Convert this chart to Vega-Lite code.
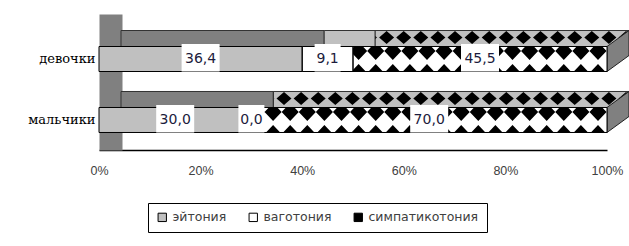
{
  "$schema": "https://vega.github.io/schema/vega-lite/v6.json",
  "autosize": {"type": "none"},
  "padding": {"left": 99, "top": 14, "right": 22, "bottom": 96},
  "width": 508,
  "height": 136,
  "background": "#ffffff",
  "data": {"values": [
    {"group": "девочки", "type": "эйтония", "value": 36.4},
    {"group": "девочки", "type": "ваготония", "value": 9.1},
    {"group": "девочки", "type": "симпатикотония", "value": 45.5},
    {"group": "мальчики", "type": "эйтония", "value": 30.0},
    {"group": "мальчики", "type": "ваготония", "value": 0.0},
    {"group": "мальчики", "type": "симпатикотония", "value": 70.0}
  ]},
  "transform": [
    {"calculate": "indexof(['эйтония','ваготония','симпатикотония'], datum.type)", "as": "ord"},
    {"stack": "value", "groupby": ["group"], "sort": [{"field": "ord", "order": "ascending"}], "offset": "normalize", "as": ["v0", "v1"]},
    {"calculate": "(datum.v0 + datum.v1) / 2", "as": "mid"},
    {"calculate": "replace(format(datum.value, '.1f'), '.', ',')", "as": "label"}
  ],
  "encoding": {
    "y": {
      "field": "group", "type": "nominal", "title": null,
      "sort": ["девочки", "мальчики"],
      "scale": {"type": "band", "paddingInner": 0.59, "paddingOuter": 0.41, "align": 0.65},
      "axis": {"domainColor": "#808080", "domainWidth": 23, "offset": -11.5, "ticks": false, "labelPadding": 15.5,
               "labelFont": "DejaVu Serif", "labelFontSize": 13, "labelColor": "#000000", "grid": false}
    }
  },
  "layer": [
    {
      "transform": [{"filter": "datum.type == 'симпатикотония'"}],
      "mark": {"type": "bar", "xOffset": 22, "x2Offset": 22, "yOffset": -16, "fill": "#c0c0c0", "stroke": "#333333", "strokeWidth": 1},
      "encoding": {
        "x": {"field": "v0", "type": "quantitative", "title": null, "scale": {"domain": [0, 1], "nice": false, "zero": true},
              "axis": {"format": "%", "values": [0, 0.2, 0.4, 0.6, 0.8, 1], "grid": false, "ticks": false, "labelFlush": false,
                       "labelPadding": 14, "domainColor": "#000000", "domainWidth": 1.5, "labelFont": "Liberation Sans",
                       "labelFontSize": 12.5, "labelColor": "#404040"}},
        "x2": {"field": "v1", "title": null}
      }
    },
    {
      "transform": [{"filter": "datum.type == 'симпатикотония'"}],
      "mark": {"type": "point", "filled": true, "opacity": 1, "size": 4, "strokeWidth": 0, "fill": "#000000",
               "shape": "M19,-28l7.5,6.5l-7.5,6.5l-7.5,-6.5zm-17.1,0l7.5,6.5l-7.5,6.5l-7.5,-6.5zm-17.1,0l7.5,6.5l-7.5,6.5l-7.5,-6.5zm-17.1,0l7.5,6.5l-7.5,6.5l-7.5,-6.5zm-17.1,0l7.5,6.5l-7.5,6.5l-7.5,-6.5zm-17.1,0l7.5,6.5l-7.5,6.5l-7.5,-6.5zm-17.1,0l7.5,6.5l-7.5,6.5l-7.5,-6.5zm-17.1,0l7.5,6.5l-7.5,6.5l-7.5,-6.5zm-17.1,0l7.5,6.5l-7.5,6.5l-7.5,-6.5zm-17.1,0l7.5,6.5l-7.5,6.5l-7.5,-6.5zm-17.1,0l7.5,6.5l-7.5,6.5l-7.5,-6.5zm-17.1,0l7.5,6.5l-7.5,6.5l-7.5,-6.5zm-17.1,0l7.5,6.5l-7.5,6.5l-7.5,-6.5zm-17.1,0l7.5,6.5l-7.5,6.5l-7.5,-6.5zm-17.1,0l7.5,6.5l-7.5,6.5l-7.5,-6.5zm-17.1,0l7.5,6.5l-7.5,6.5l-7.5,-6.5zm-17.1,0l7.5,6.5l-7.5,6.5l-7.5,-6.5zm-17.1,0l7.5,6.5l-7.5,6.5l-7.5,-6.5zm-17.1,0l7.5,6.5l-7.5,6.5l-7.5,-6.5zm-17.1,0l7.5,6.5l-7.5,6.5l-7.5,-6.5zm-17.1,0l7.5,6.5l-7.5,6.5l-7.5,-6.5zm-17.1,0l7.5,6.5l-7.5,6.5l-7.5,-6.5zm-17.1,0l7.5,6.5l-7.5,6.5l-7.5,-6.5zm-17.1,0l7.5,6.5l-7.5,6.5l-7.5,-6.5z"},
      "encoding": {
        "x": {"field": "v1", "type": "quantitative", "title": null}
      }
    },
    {
      "transform": [{"filter": "datum.type != 'симпатикотония'"}],
      "mark": {"type": "bar", "xOffset": 22, "x2Offset": 22, "yOffset": -16, "stroke": "#333333", "strokeWidth": 1},
      "encoding": {
        "x": {"field": "v0", "type": "quantitative", "title": null},
        "x2": {"field": "v1", "title": null},
        "fill": {"condition": {"test": "datum.type == 'эйтония'", "value": "#808080"}, "value": "#c0c0c0"}
      }
    },
    {
      "transform": [{"filter": "datum.type == 'симпатикотония'"}],
      "mark": {"type": "point", "filled": true, "opacity": 1, "size": 4, "fill": "#808080", "stroke": "#222222", "strokeWidth": 1,
               "shape": "M0,-12.5L22,-28.5L22,-3.5L0,12.5Z"},
      "encoding": {
        "x": {"field": "v1", "type": "quantitative", "title": null}
      }
    },
    {
      "mark": {"type": "bar"},
      "encoding": {
        "x": {"field": "v0", "type": "quantitative", "title": null},
        "x2": {"field": "v1", "title": null},
        "color": {
          "field": "type", "type": "nominal", "title": null,
          "scale": {"domain": ["эйтония", "ваготония", "симпатикотония"], "range": ["#c0c0c0", "#ffffff", "#000000"]},
          "legend": {"orient": "none", "legendX": 49, "legendY": 189, "direction": "horizontal", "title": null,
                     "strokeColor": "#000000", "fillColor": "#ffffff", "padding": 8, "symbolType": "square", "symbolSize": 70,
                     "symbolStrokeColor": "#000000", "symbolStrokeWidth": 1, "labelFont": "DejaVu Sans", "labelFontSize": 12.5,
                     "labelColor": "#404040", "columnPadding": 20, "symbolOffset": 0, "labelOffset": 4}
        }
      }
    },
    {
      "transform": [{"filter": "datum.type == 'симпатикотония'"}],
      "mark": {"type": "bar", "fill": "#ffffff"},
      "encoding": {
        "x": {"field": "v0", "type": "quantitative", "title": null},
        "x2": {"field": "v1", "title": null}
      }
    },
    {
      "transform": [{"filter": "datum.type == 'симпатикотония'"}],
      "mark": {"type": "point", "filled": true, "opacity": 1, "size": 4, "strokeWidth": 0, "fill": "#000000",
               "shape": "M-13.28,-12.5l8.56,0l4.27,4.5l-8.55,9l-8.55,-9zm4.28,17.5l7.125,7.5l-14.25,0zm-21.38,-17.5l8.56,0l4.27,4.5l-8.55,9l-8.55,-9zm4.28,17.5l7.125,7.5l-14.25,0zm-21.38,-17.5l8.56,0l4.27,4.5l-8.55,9l-8.55,-9zm4.28,17.5l7.125,7.5l-14.25,0zm-21.38,-17.5l8.56,0l4.27,4.5l-8.55,9l-8.55,-9zm4.28,17.5l7.125,7.5l-14.25,0zm-21.38,-17.5l8.56,0l4.27,4.5l-8.55,9l-8.55,-9zm4.28,17.5l7.125,7.5l-14.25,0zm-21.38,-17.5l8.56,0l4.27,4.5l-8.55,9l-8.55,-9zm4.28,17.5l7.125,7.5l-14.25,0zm-21.38,-17.5l8.56,0l4.27,4.5l-8.55,9l-8.55,-9zm4.28,17.5l7.125,7.5l-14.25,0zm-21.38,-17.5l8.56,0l4.27,4.5l-8.55,9l-8.55,-9zm4.28,17.5l7.125,7.5l-14.25,0zm-21.38,-17.5l8.56,0l4.27,4.5l-8.55,9l-8.55,-9zm4.28,17.5l7.125,7.5l-14.25,0zm-21.38,-17.5l8.56,0l4.27,4.5l-8.55,9l-8.55,-9zm4.28,17.5l7.125,7.5l-14.25,0zm-21.38,-17.5l8.56,0l4.27,4.5l-8.55,9l-8.55,-9zm4.28,17.5l7.125,7.5l-14.25,0zm-21.38,-17.5l8.56,0l4.27,4.5l-8.55,9l-8.55,-9zm4.28,17.5l7.125,7.5l-14.25,0zm-21.38,-17.5l8.56,0l4.27,4.5l-8.55,9l-8.55,-9zm4.28,17.5l7.125,7.5l-14.25,0zm-21.38,-17.5l8.56,0l4.27,4.5l-8.55,9l-8.55,-9zm4.28,17.5l7.125,7.5l-14.25,0zm-21.38,-17.5l8.56,0l4.27,4.5l-8.55,9l-8.55,-9zm4.28,17.5l7.125,7.5l-14.25,0zm-21.38,-17.5l8.56,0l4.27,4.5l-8.55,9l-8.55,-9zm4.28,17.5l7.125,7.5l-14.25,0zm-21.38,-17.5l8.56,0l4.27,4.5l-8.55,9l-8.55,-9zm4.28,17.5l7.125,7.5l-14.25,0zm-21.38,-17.5l8.56,0l4.27,4.5l-8.55,9l-8.55,-9zm4.28,17.5l7.125,7.5l-14.25,0zm-21.38,-17.5l8.56,0l4.27,4.5l-8.55,9l-8.55,-9zm4.28,17.5l7.125,7.5l-14.25,0zm-21.38,-17.5l8.56,0l4.27,4.5l-8.55,9l-8.55,-9zm4.28,17.5l7.125,7.5l-14.25,0zm-21.38,-17.5l8.56,0l4.27,4.5l-8.55,9l-8.55,-9zm4.28,17.5l7.125,7.5l-14.25,0zm-21.38,-17.5l8.56,0l4.27,4.5l-8.55,9l-8.55,-9zm4.28,17.5l7.125,7.5l-14.25,0z"},
      "encoding": {
        "x": {"field": "v1", "type": "quantitative", "title": null}
      }
    },
    {
      "transform": [{"filter": "datum.type != 'симпатикотония'"}],
      "mark": {"type": "bar"},
      "encoding": {
        "x": {"field": "v0", "type": "quantitative", "title": null},
        "x2": {"field": "v1", "title": null},
        "fill": {"condition": {"test": "datum.type == 'эйтония'", "value": "#c0c0c0"}, "value": "#ffffff"}
      }
    },
    {
      "mark": {"type": "bar", "filled": false, "stroke": "#000000", "strokeWidth": 1},
      "encoding": {
        "x": {"field": "v0", "type": "quantitative", "title": null},
        "x2": {"field": "v1", "title": null}
      }
    },
    {
      "mark": {"type": "point", "filled": true, "opacity": 1, "size": 4, "strokeWidth": 0, "fill": "#ffffff"},
      "encoding": {
        "x": {"field": "mid", "type": "quantitative", "title": null},
        "shape": {"condition": {"test": "datum.value < 10", "value": "M-13,-15H13V12.5H-13Z"}, "value": "M-19,-15H19V12.5H-19Z"}
      }
    },
    {
      "mark": {"type": "text", "font": "DejaVu Sans", "fontSize": 14, "color": "#1c1c3c", "baseline": "middle", "align": "center"},
      "encoding": {
        "x": {"field": "mid", "type": "quantitative", "title": null},
        "text": {"field": "label"}
      }
    }
  ],
  "config": {"view": {"stroke": null}}
}
